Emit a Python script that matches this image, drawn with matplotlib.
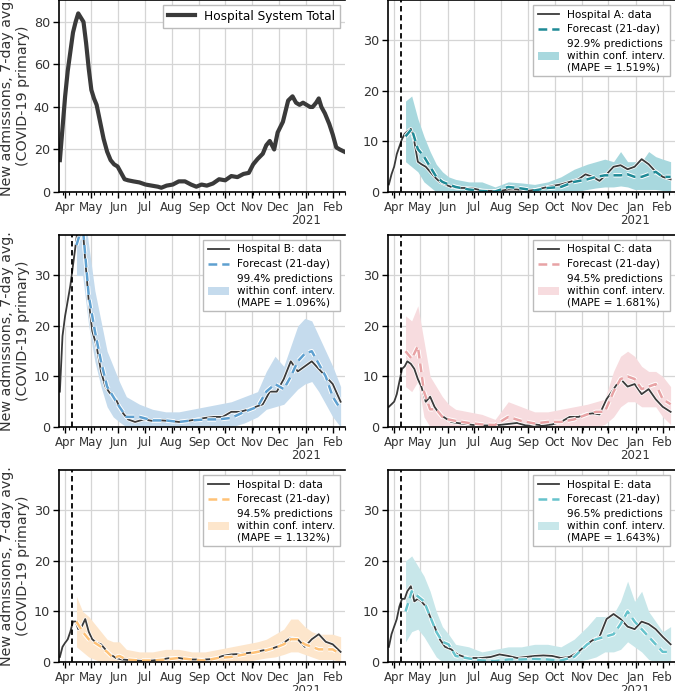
import datetime as dt
import numpy as np
import matplotlib
matplotlib.use('Agg')
import matplotlib.pyplot as plt
import matplotlib.dates as mdates
import matplotlib.ticker as mticker
import matplotlib.patheffects as pe
from matplotlib.patches import Patch
from matplotlib.lines import Line2D

start = dt.date(2020, 4, 1)

# total: days since Apr 1 2020 and values
total_days = [-6, -3, 0, 3, 6, 9, 12, 15, 18, 21, 24, 27, 30, 33, 36, 40, 44, 48, 52, 56,
              60, 64, 68, 72, 78, 85, 92, 99, 106, 110, 116, 123, 130, 137, 144, 150, 156,
              162, 169, 176, 183, 190, 197, 204, 210, 215, 220, 226, 230, 234, 239, 243,
              249, 255, 260, 264, 268, 272, 276, 280, 283, 287, 290, 293, 297, 302, 306,
              310, 314, 319]
total_vals = [15, 30, 45, 57, 66, 75, 80, 84, 82, 80, 70, 58, 48, 44, 41, 33, 25, 19, 15, 13,
              12, 9, 6, 5.5, 5, 4.5, 3.5, 3, 2.5, 2, 3, 3.5, 5, 5, 3.5, 2.5, 3.5,
              3, 4, 6, 5.5, 7.5, 7, 8.5, 9, 13, 15.5, 18, 22, 24, 20, 28,
              33, 43, 45, 42, 41, 42, 41, 40, 40, 42, 44, 40, 37, 32, 27,
              21, 20, 19]

# hospital data grid (days since Apr 1 2020)
data_days = [-6, -3, 0, 3, 6, 9, 12, 15, 19, 23, 27, 31, 36, 41, 46, 52, 58, 65, 72, 80,
             90, 100, 110, 120, 130, 140, 150, 160, 170, 180, 190, 200, 210, 218, 226, 234,
             242, 250, 258, 266, 274, 282, 290, 298, 306, 315]
# forecast grid
fc_days = [13, 20, 27, 34, 41, 48, 55, 62, 70, 85, 100, 115, 130, 145, 160, 175, 190, 205,
           220, 230, 240, 250, 258, 266, 274, 282, 290, 298, 306, 315]

a_data = [1.5, 3.5, 5, 7.5, 9, 10.5, 11.5, 12, 12.5, 10, 6, 5.5, 5, 4, 3, 2, 1.5, 1, 0.8, 0.8,
          0.7, 0.3, 0.2, 0.2, 0.5, 0.5, 0.2, 0.4, 0.8, 1.2, 1.5, 2, 2.5, 3.5, 3, 2.2,
          3.5, 5, 5.3, 4.5, 5, 6.5, 5.5, 4, 3, 2.5]
a_fc = [11, 12.5, 8.5, 7, 5, 3, 2, 1.5, 1, 0.5, 0.2, 0.1, 1, 0.7, 0.3, 0.8, 1, 2,
        2.5, 3, 3.3, 3.3, 3.3, 3.5, 3, 3, 3.5, 4, 3, 3]
a_hi = [18, 19, 14.5, 11, 8, 5.5, 4, 3, 2.5, 2, 2, 1, 2, 1.8, 1.5, 2, 3, 4.5,
        5.5, 6, 6.5, 6, 8, 6, 6, 6, 8, 7, 6.5, 6]
a_lo = [6, 5, 4, 2, 1, 0, 0, 0, 0, 0, 0, 0, 0, 0, 0, 0, 0, 0,
        0.5, 0.8, 1, 1, 1.2, 1, 0.5, 0.5, 0.5, 0.5, 0.3, 0]

b_data = [7, 18, 22, 25, 28, 32, 36, 40, 42, 33, 25, 19, 16, 11, 8, 6.5, 5.5, 3, 1.5, 1,
          1.5, 1.2, 1.3, 1.2, 1, 1.2, 1.5, 1.8, 2, 2, 3, 3, 3.5, 4, 4.5, 7,
          7, 9.5, 13, 11, 12, 13, 11.5, 10, 8.5, 5]
b_fc = [36, 40, 26, 19, 13, 8, 6, 4, 2, 2, 1.3, 1.3, 1, 1.3, 1.5, 1.5, 1.8, 3,
        4, 7, 8.5, 7.5, 10, 13, 14.5, 15, 12.5, 10, 6, 3.5]
b_hi = [45, 45, 36, 27, 21, 15, 12, 9, 6, 4.5, 3.5, 3, 3, 3.5, 4, 4.5, 5, 6,
        7, 11, 14, 12, 16, 20, 21.5, 21, 18, 15, 12, 8]
b_lo = [30, 30, 20, 13, 8, 4, 2, 1, 0, 0, 0, 0, 0, 0, 0, 0, 0, 0.8,
        2, 3.5, 4, 4.5, 6, 7.5, 8.5, 9, 7, 4.5, 2, 0]

c_data = [4, 4.5, 5, 6.5, 9, 11.5, 12, 13, 12.5, 11.5, 9.5, 8, 5, 6, 4, 2.5, 1.8, 1, 0.8, 0.6,
          0.4, 0.3, 0.3, 0.4, 0.6, 0.8, 0.3, 0.5, 0.3, 0.5, 1, 2, 2, 2.5, 2.7, 2.5,
          5.5, 7.5, 9.5, 8, 8.5, 6.5, 7.5, 5.5, 4, 3]
c_fc = [15, 13.5, 16, 7, 3.5, 3.5, 2, 1.5, 1.2, 0.8, 0.5, 0.4, 2, 1.2, 0.7, 1, 1, 1.5,
        2.5, 3, 3, 7, 9.5, 10, 9.5, 7.5, 8, 8.5, 5.5, 4.5]
c_hi = [22, 21, 24, 17, 10, 8, 6, 4.5, 3.5, 3, 2.5, 1.5, 5, 4, 3, 3, 3.5, 4,
        4.5, 5, 5.5, 11, 14, 15, 14, 12, 11, 11, 10, 8]
c_lo = [8, 7, 9, 2, 0, 0, 0, 0, 0, 0, 0, 0, 0, 0, 0, 0, 0, 0,
        0, 0, 0.5, 2, 4, 5, 5, 4, 4, 4, 2, 0.5]

d_data = [1, 3, 3.8, 4.5, 6, 8, 8, 6.5, 7, 8.5, 6, 4.5, 3.8, 3.5, 2.5, 1.5, 0.8, 0.5, 0.4, 0.3,
          0.2, 0.3, 0.5, 0.8, 0.8, 0.5, 0.5, 0.5, 0.6, 1.2, 1.5, 1.6, 1.8, 2, 2.3, 2.5,
          3, 3.8, 4.8, 4.5, 3, 4.5, 5.5, 4, 3.5, 2]
d_fc = [8, 6, 4.5, 3.8, 3, 2, 0.8, 1.2, 0.5, 0.3, 0.3, 0.5, 0.8, 0.5, 0.3, 0.8, 1, 1.5,
        2, 2.3, 2.8, 3.5, 4.5, 4.5, 3.5, 3, 2.5, 2.5, 2.5, 1.5]
d_hi = [13, 10, 9, 7.5, 6, 4.5, 4, 4, 2.5, 2, 2, 2.5, 2.5, 2, 2, 2.5, 3, 3.5,
        4, 4.5, 5.5, 6.5, 8.5, 8.5, 7, 6, 5.5, 5.5, 5.5, 5]
d_lo = [3, 2, 1, 0.5, 0, 0, 0, 0, 0, 0, 0, 0, 0, 0, 0, 0, 0, 0,
        0.5, 0.8, 1, 1.5, 2, 2, 1.5, 1, 0.5, 0.5, 0.5, 0]

e_data = [3, 5.5, 7, 8.5, 11, 12.5, 12.5, 14, 15, 12, 12.5, 12, 11, 9, 7, 4.5, 3, 2.5, 1.5, 1,
          0.8, 0.8, 1, 1.5, 1.2, 0.8, 1, 1.2, 1.3, 1.2, 0.8, 1, 2, 3.3, 4.3, 5,
          8.5, 9.5, 8.5, 7, 6.5, 8, 7.5, 6.5, 5, 3.5]
e_fc = [10, 14, 13, 12, 9, 6, 4, 3.5, 1.2, 0.7, 0.3, 0.2, 0.5, 0.5, 0.6, 0.5, 0.3, 1,
        3.5, 4.5, 5, 5.5, 7.5, 10, 8, 6.5, 5, 3.5, 2, 2]
e_hi = [20, 21, 19, 17, 14, 10, 7, 5.5, 3.5, 3, 2, 2.5, 3, 3, 3.5, 3.5, 3, 4.5,
        7, 9, 9, 9.5, 12, 16, 12, 14, 10, 8, 6, 7]
e_lo = [4, 6, 6.5, 5, 3, 1, 0, 0, 0, 0, 0, 0, 0, 0, 0, 0, 0, 0,
        0.5, 1, 2, 2, 2.5, 4, 3, 2, 0.5, 0, 0, 0]

hospitals = ['A', 'B', 'C', 'D', 'E']
pct = ['92.9', '99.4', '94.5', '94.5', '96.5']
mape = ['1.519', '1.096', '1.681', '1.132', '1.643']
fc_colors = ['#1f8a96', '#5ea0d0', '#e8a3a5', '#ffc277', '#67c3cc']
band_colors = ['#a8d8de', '#c5dbed', '#f7dcdf', '#fde6cc', '#c8e7ea']
all_data = [a_data, b_data, c_data, d_data, e_data]
all_fc = [a_fc, b_fc, c_fc, d_fc, e_fc]
all_hi = [a_hi, b_hi, c_hi, d_hi, e_hi]
all_lo = [a_lo, b_lo, c_lo, d_lo, e_lo]


def todates(days):
    return [start + dt.timedelta(days=d) for d in days]


plt.rcParams['font.family'] = 'DejaVu Sans'
plt.rcParams['font.size'] = 8.5

fig = plt.figure(figsize=(6.75, 6.91), dpi=100)
W, H = 675.0, 691.0
lefts = [59, 388]
widths = [286, 287]
tops = [0, 235, 470]
ah = 192
axes = []
for r in range(3):
    for c in range(2):
        ax = fig.add_axes([lefts[c] / W, 1 - (tops[r] + ah) / H, widths[c] / W, ah / H])
        axes.append(ax)

xmin = start + dt.timedelta(days=-6.5)
xmax = start + dt.timedelta(days=320)
cutoff = start + dt.timedelta(days=8)
dark = '#3a3a3a'


def month_fmt(x, pos):
    d = mdates.num2date(x)
    s = d.strftime('%b')
    if d.month == 1:
        s += '\n2021'
    return s


def style(ax):
    ax.set_xlim(xmin, xmax)
    ax.xaxis.set_major_locator(mdates.MonthLocator())
    ax.xaxis.set_minor_locator(mdates.WeekdayLocator(byweekday=mdates.MO))
    ax.xaxis.set_major_formatter(mticker.FuncFormatter(month_fmt))
    ax.grid(True, which='major', color='#d5d5d5', linewidth=0.9)
    ax.set_axisbelow(True)
    for s in ax.spines.values():
        s.set_color('black')
        s.set_linewidth(1.2)
    ax.spines['right'].set_visible(False)
    ax.tick_params(which='major', length=4, width=1, colors='black', labelcolor='#333333',
                   pad=2.5)
    ax.tick_params(axis='x', labelsize=8.5)
    ax.tick_params(axis='y', labelsize=9.2)
    ax.tick_params(which='minor', length=2.5, width=0.8, colors='black')
    for t in ax.get_xticklabels():
        t.set_linespacing(1.0)


# total panel
ax = axes[0]
ax.plot(todates(total_days), total_vals, color=dark, lw=3, label='Hospital System Total')
ax.set_ylim(0, 90.3)
ax.set_yticks([0, 20, 40, 60, 80])
style(ax)
ax.legend(loc='upper right', fontsize=8.7, frameon=True, edgecolor='#bbbbbb',
          fancybox=False, handlelength=2.2, borderaxespad=0.4, framealpha=1)

for i, h in enumerate(hospitals):
    ax = axes[i + 1]
    ax.fill_between(todates(fc_days), all_lo[i], all_hi[i], color=band_colors[i], lw=0)
    ax.plot(todates(data_days), all_data[i], color=dark, lw=1.3,
            path_effects=[pe.Stroke(linewidth=2.4, foreground='white'), pe.Normal()])
    ax.plot(todates(fc_days), all_fc[i], color=fc_colors[i], lw=1.8, ls=(0, (3.5, 2)),
            path_effects=[pe.Stroke(linewidth=3.2, foreground='white'), pe.Normal()])
    ax.axvline(cutoff, color='black', lw=1.3, ls=(0, (3, 2)))
    ax.set_ylim(0, 38)
    ax.set_yticks([0, 10, 20, 30])
    style(ax)
    handles = [Line2D([], [], color=dark, lw=1.3),
               Line2D([], [], color=fc_colors[i], lw=1.8, ls=(0, (3.5, 2))),
               Patch(color=band_colors[i], lw=0)]
    labels = ['Hospital %s: data' % h, 'Forecast (21-day)',
              '%s%% predictions\nwithin conf. interv.\n(MAPE = %s%%)' % (pct[i], mape[i])]
    ax.legend(handles, labels, loc='upper right', fontsize=7.6, frameon=True,
              edgecolor='#bbbbbb', fancybox=False, handlelength=2.0,
              handletextpad=0.8, labelspacing=0.45, borderpad=0.4,
              borderaxespad=0.5, framealpha=1)

for k in (0, 2, 4):
    axes[k].set_ylabel('New admissions, 7-day avg.\n(COVID-19 primary)', fontsize=10.3,
                       color='#333333', labelpad=3, linespacing=1.1)

fig.savefig('out.png', dpi=100)
